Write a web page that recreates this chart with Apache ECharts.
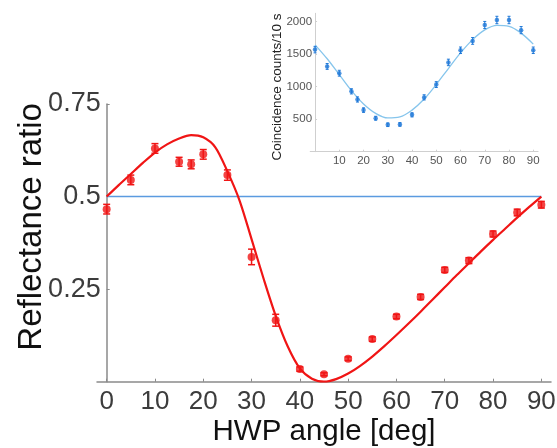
<!DOCTYPE html>
<html>
<head>
<meta charset="utf-8">
<script src="https://cdn.jsdelivr.net/npm/echarts@6/dist/echarts.min.js"></script>
<style>
html,body{margin:0;padding:0;background:#fff;}
#chart{width:557px;height:448px;}
</style>
</head>
<body>
<div id="chart"></div>
<script>
// ---- Main plot data ----
const mainAngles = [0, 5, 10, 15, 17.5, 20, 25, 30, 35, 40, 45, 50, 55, 60, 65, 70, 75, 80, 85, 90];
const mainRatio  = [0.466, 0.545, 0.630, 0.594, 0.587, 0.614, 0.558, 0.337, 0.166, 0.034, 0.020, 0.062, 0.115, 0.176, 0.229, 0.302, 0.327, 0.399, 0.457, 0.478];
const mainErr    = [0.013, 0.013, 0.013, 0.012, 0.012, 0.013, 0.014, 0.021, 0.016, 0.006, 0.004, 0.005, 0.006, 0.006, 0.007, 0.007, 0.008, 0.008, 0.009, 0.009];
const fitAngles  = [0, 2.5, 5, 7.5, 10, 12.5, 15, 17.5, 20, 22.5, 25, 27.5, 30, 32.5, 35, 37.5, 40, 42.5, 45, 47.5, 50, 52.5, 55, 57.5, 60, 62.5, 65, 67.5, 70, 72.5, 75, 77.5, 80, 82.5, 85, 87.5, 90];
const fitRatio   = [0.5, 0.531, 0.561, 0.591, 0.619, 0.641, 0.657, 0.666, 0.660, 0.633, 0.568, 0.490, 0.385, 0.278, 0.178, 0.095, 0.036, 0.008, 0.0, 0.007, 0.022, 0.043, 0.068, 0.096, 0.126, 0.157, 0.189, 0.222, 0.255, 0.288, 0.320, 0.352, 0.383, 0.413, 0.443, 0.472, 0.5];
const refAngles  = [0, 90];
const refRatio   = [0.5, 0.5];
const mainXTicks = [0, 10, 20, 30, 40, 50, 60, 70, 80, 90];
const mainYTicks = [0.25, 0.5, 0.75];

// ---- Inset data ----
const insAngles  = [0, 5, 10, 15, 17.5, 20, 25, 30, 35, 40, 45, 50, 55, 60, 65, 70, 75, 80, 85, 90];
const insCounts  = [1571, 1312, 1208, 929, 804, 640, 515, 415, 420, 567, 836, 1033, 1374, 1561, 1705, 1950, 2027, 2027, 1871, 1561];
const insErr     = [50, 45, 45, 40, 40, 35, 30, 28, 28, 32, 40, 45, 50, 50, 52, 55, 57, 57, 55, 50];
const insFitAngles = [0, 5, 10, 15, 20, 25, 30, 35, 40, 45, 50, 55, 60, 65, 70, 75, 80, 85, 90];
const insFitCounts = [1645, 1430, 1185, 940, 735, 590, 520, 535, 640, 810, 1035, 1280, 1520, 1725, 1875, 1945, 1930, 1825, 1655];
const insXTicks  = [10, 20, 30, 40, 50, 60, 70, 80, 90];
const insYTicks  = [500, 1000, 1500, 2000];

const FONT = 'Liberation Sans, Arial, sans-serif';
const RED = '#f01515';
const BLUE_LINE = '#5b9be0';
const INS_PT = '#1f78d8';
const INS_CURVE = '#86c5ec';
const MAIN_GRID = { left: 97, right: 6, top: 104, bottom: 66.3 };
const INS_GRID = { left: 310.2, right: 18.9, top: 13.3, bottom: 296.3 };

function zip(a, b) { return a.map((v, i) => [v, b[i]]); }
function errData(xs, ys, es) { return xs.map((x, i) => [x, ys[i] - es[i], ys[i] + es[i]]); }
function errRenderer(color, lw, cap) {
  return function (params, api) {
    const x = api.value(0);
    const lo = api.coord([x, api.value(1)]);
    const hi = api.coord([x, api.value(2)]);
    const st = { stroke: color, lineWidth: lw };
    return {
      type: 'group',
      children: [
        { type: 'line', shape: { x1: lo[0], y1: lo[1], x2: hi[0], y2: hi[1] }, style: st },
        { type: 'line', shape: { x1: lo[0] - cap, y1: lo[1], x2: lo[0] + cap, y2: lo[1] }, style: st },
        { type: 'line', shape: { x1: hi[0] - cap, y1: hi[1], x2: hi[0] + cap, y2: hi[1] }, style: st }
      ]
    };
  };
}
const plain = v => String(v);

const chart = echarts.init(document.getElementById('chart'), null, { renderer: 'canvas' });
chart.setOption({
  animation: false,
  backgroundColor: '#fff',
  textStyle: { fontFamily: FONT },
  grid: [
    Object.assign({ containLabel: false, outerBoundsMode: 'none' }, MAIN_GRID),
    Object.assign({ containLabel: false, outerBoundsMode: 'none' }, INS_GRID)
  ],
  xAxis: [
    {
      gridIndex: 0, type: 'value', min: -2, max: 92,
      name: 'HWP angle [deg]', nameLocation: 'middle', nameGap: 35, nameMoveOverlap: false,
      nameTextStyle: { fontSize: 29.5, color: '#111', fontFamily: FONT },
      axisLine: { onZero: false, lineStyle: { color: '#8a8a8a', width: 1.5 } },
      axisTick: { show: true, inside: true, length: 3, customValues: mainXTicks, lineStyle: { color: '#8a8a8a' } },
      axisLabel: { customValues: mainXTicks, fontSize: 26, color: '#3c3c3c', margin: 7, fontFamily: FONT, formatter: plain },
      splitLine: { show: false }
    },
    {
      gridIndex: 1, type: 'value', min: -2, max: 92,
      axisLine: { onZero: false, lineStyle: { color: '#cfcfcf', width: 1 } },
      axisTick: { show: true, inside: true, length: 2, customValues: insXTicks, lineStyle: { color: '#cfcfcf' } },
      axisLabel: { customValues: insXTicks, fontSize: 11.5, color: '#555', margin: 3, fontFamily: FONT, formatter: plain },
      splitLine: { show: false }
    }
  ],
  yAxis: [
    {
      gridIndex: 0, type: 'value', min: 0, max: 0.75, offset: 0,
      name: 'Reflectance ratio', nameLocation: 'middle', nameGap: 58, nameMoveOverlap: false,
      nameTextStyle: { fontSize: 33, color: '#111', fontFamily: FONT, padding: [0, 0, 0, 32] },
      axisLine: { onZero: false, lineStyle: { color: '#8a8a8a', width: 1.5 } },
      axisTick: { show: true, inside: true, length: 3, customValues: mainYTicks, lineStyle: { color: '#8a8a8a' } },
      axisLabel: { customValues: mainYTicks, fontSize: 27, color: '#3c3c3c', margin: 6, fontFamily: FONT, formatter: plain },
      splitLine: { show: false }
    },
    {
      gridIndex: 1, type: 'value', min: 0, max: 2130, offset: 0,
      name: 'Coincidence counts/10 s', nameLocation: 'middle', nameGap: 31, nameMoveOverlap: false,
      nameTextStyle: { fontSize: 13.5, color: '#222', fontFamily: FONT, padding: [0, 9, 0, 0] },
      axisLine: { onZero: false, lineStyle: { color: '#cfcfcf', width: 1 } },
      axisTick: { show: true, inside: true, length: 2, customValues: insYTicks, lineStyle: { color: '#cfcfcf' } },
      axisLabel: { customValues: insYTicks, fontSize: 11.5, color: '#555', margin: 3, fontFamily: FONT, formatter: plain },
      splitLine: { show: false }
    }
  ],
  series: [
    {
      type: 'line', xAxisIndex: 0, yAxisIndex: 0, data: zip(refAngles, refRatio),
      showSymbol: false, lineStyle: { color: BLUE_LINE, width: 1.5 }, z: 2, silent: true
    },
    {
      type: 'line', xAxisIndex: 0, yAxisIndex: 0, data: zip(fitAngles, fitRatio),
      smooth: 0.3, showSymbol: false, lineStyle: { color: RED, width: 2.2 }, z: 3, silent: true
    },
    {
      type: 'scatter', xAxisIndex: 0, yAxisIndex: 0, data: zip(mainAngles, mainRatio),
      symbol: 'circle', symbolSize: 8, itemStyle: { color: RED }, z: 4
    },
    {
      type: 'custom', xAxisIndex: 0, yAxisIndex: 0, data: errData(mainAngles, mainRatio, mainErr),
      renderItem: errRenderer(RED, 1.5, 3.5), encode: { x: 0, y: [1, 2] }, z: 5
    },
    {
      type: 'line', xAxisIndex: 1, yAxisIndex: 1, data: zip(insFitAngles, insFitCounts),
      smooth: 0.35, showSymbol: false, lineStyle: { color: INS_CURVE, width: 1.3 }, z: 3, silent: true
    },
    {
      type: 'scatter', xAxisIndex: 1, yAxisIndex: 1, data: zip(insAngles, insCounts),
      symbol: 'circle', symbolSize: 4.5, itemStyle: { color: INS_PT }, z: 4
    },
    {
      type: 'custom', xAxisIndex: 1, yAxisIndex: 1, data: errData(insAngles, insCounts, insErr),
      renderItem: errRenderer(INS_PT, 1, 1.5), encode: { x: 0, y: [1, 2] }, z: 5
    }
  ]
});

// Place each y axis at x = 0 (the x axes extend slightly past 0, as in the original).
const mainZero = chart.convertToPixel({ xAxisIndex: 0 }, 0);
const insZero = chart.convertToPixel({ xAxisIndex: 1 }, 0);
chart.setOption({
  yAxis: [
    { offset: -(mainZero - MAIN_GRID.left) },
    { offset: -(insZero - INS_GRID.left) }
  ]
});
</script>
</body>
</html>
